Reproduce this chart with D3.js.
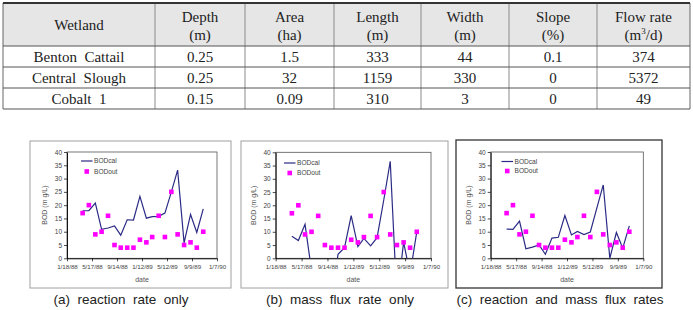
<!DOCTYPE html>
<html><head><meta charset="utf-8">
<script src="https://cdn.jsdelivr.net/npm/d3@7"></script>
<style>
html,body{margin:0;padding:0;background:#fff;}
svg{display:block;}
</style></head>
<body>
<svg id="c" width="693" height="310"></svg>
<script>
// ---------- table data ----------
const headTop = ["Wetland","Depth","Area","Length","Width","Slope","Flow rate"];
const headUnit = ["","(m)","(ha)","(m)","(m)","(%)","(m3/d)"];
const wetlands = ["Benton  Cattail","Central  Slough","Cobalt  1"];
const depth = ["0.25","0.25","0.15"];
const area = ["1.5","32","0.09"];
const lengthM = ["333","1159","310"];
const widthM = ["44","330","3"];
const slope = ["0.1","0","0"];
const flowRate = ["374","5372","49"];

// ---------- chart data ----------
const sampleDates = ["1988-04-02","1988-05-02","1988-06-02","1988-07-02","1988-08-02","1988-09-02","1988-10-02","1988-11-02","1988-12-02","1989-01-02","1989-02-02","1989-03-02","1989-04-02","1989-05-02","1989-06-02","1989-07-02","1989-08-02","1989-09-02","1989-10-02","1989-11-02"];
const bodOut = [17,20,9,10,16,5,4,4,4,7,6,8,16,8,25,9,5,6,4,10];
const bodCalA = [17.9,17.9,20.8,10.9,11.4,12.2,8.7,14.5,14.4,23.3,15.1,15.7,15.8,17,25,33.2,5.8,16.5,9.7,18.6];
const bodCalB = [8.3,6.7,12.8,-4.6,-8,-10,-15,1.5,4,16.1,4.4,7.5,4.7,7.8,22,36.6,-15.7,6.1,-6,10];
const bodCalC = [11,10.9,14,3.6,4.2,5,1.5,7.6,7.9,16.1,8.8,10.1,8.9,9.9,19,27.6,0,9.7,3.8,12.2];
const xTickLabels = ["1/18/88","5/17/88","9/14/88","1/12/89","5/12/89","9/9/89","1/7/90"];
const yTicks = [0,5,10,15,20,25,30,35,40];
const seriesNames = ["BODcal","BODout"];
const captions = ["(a)  reaction  rate  only","(b)  mass  flux  rate  only","(c)  reaction  and  mass  flux  rates"];

const svg = d3.select("#c");

// ---------- table ----------
const colX = [3,155,245,334,421,509,597,690];
const rowY = [3,46,67,88,109];
const serif = "'Liberation Serif','Times New Roman',serif";
const tbl = svg.append("g");
tbl.append("rect").attr("x",colX[0]).attr("y",rowY[0]).attr("width",colX[7]-colX[0]).attr("height",rowY[1]-rowY[0]).attr("fill","#e6e6e6");
colX.forEach((x,i)=>{
  tbl.append("line").attr("x1",x).attr("x2",x).attr("y1",rowY[0]).attr("y2",rowY[4])
    .attr("stroke", (i===0||i===7)?"#666":"#8a8a8a").attr("stroke-width",1);
});
rowY.forEach((y,i)=>{
  tbl.append("line").attr("x1",colX[0]).attr("x2",colX[7]).attr("y1",y).attr("y2",y)
    .attr("stroke", i===0?"#333":"#555").attr("stroke-width", i===0?2:1);
});
const cx = i => (colX[i]+colX[i+1])/2;
headTop.forEach((h,i)=>{
  if(headUnit[i]===""){
    tbl.append("text").attr("x",cx(i)).attr("y",30).attr("text-anchor","middle")
      .attr("font-family",serif).attr("font-size",15).attr("fill","#222").text(h);
  } else {
    tbl.append("text").attr("x",cx(i)).attr("y",22).attr("text-anchor","middle")
      .attr("font-family",serif).attr("font-size",15).attr("fill","#222").text(h);
    const t = tbl.append("text").attr("x",cx(i)).attr("y",40).attr("text-anchor","middle")
      .attr("font-family",serif).attr("font-size",15).attr("fill","#222");
    if(headUnit[i]==="(m3/d)"){
      t.append("tspan").text("(m");
      t.append("tspan").attr("font-size",9).attr("dy",-6).text("3");
      t.append("tspan").attr("dy",6).text("/d)");
    } else t.text(headUnit[i]);
  }
});
const cols = [wetlands,depth,area,lengthM,widthM,slope,flowRate];
cols.forEach((col,ci)=>{
  col.forEach((v,ri)=>{
    tbl.append("text").attr("x",cx(ci)).attr("y",(rowY[ri+1]+rowY[ri+2])/2+5)
      .attr("text-anchor","middle").attr("font-family",serif).attr("font-size",15)
      .attr("fill","#222").style("white-space","pre").text(v);
  });
});

// ---------- charts ----------
const parse = d3.utcParse("%Y-%m-%d");
const parseTick = d3.utcParse("%m/%d/%y");
const dates = sampleDates.map(parse);
const tickDates = xTickLabels.map(parseTick);
const sans = "'Liberation Sans',Arial,sans-serif";

const charts = [
  {cal:bodCalA, frame:[30,141,231,288], frameColor:"#a0a0a0", frameW:1, plot:[67,152,217,258.3], leg:[81,161,171.5]},
  {cal:bodCalB, frame:[241,141,448,288], frameColor:"#a0a0a0", frameW:1, plot:[275.7,152.3,431,258.3], leg:[284,163,173]},
  {cal:bodCalC, frame:[456,140,662,288], frameColor:"#333", frameW:1.3, plot:[490.7,152,643.3,258.3], leg:[501.5,161.5,171]}
];

charts.forEach((c,ci)=>{
  const g = svg.append("g");
  const [fx0,fy0,fx1,fy1] = c.frame;
  g.append("rect").attr("x",fx0).attr("y",fy0).attr("width",fx1-fx0).attr("height",fy1-fy0)
    .attr("fill","#fff").attr("stroke",c.frameColor).attr("stroke-width",c.frameW);
  const [px0,py0,px1,py1] = c.plot;
  const x = d3.scaleUtc().domain([tickDates[0], tickDates[tickDates.length-1]]).range([px0,px1]);
  const y = d3.scaleLinear().domain([0,40]).range([py1,py0]);
  g.append("rect").attr("x",px0).attr("y",py0).attr("width",px1-px0).attr("height",py1-py0)
    .attr("fill","none").attr("stroke","#555").attr("stroke-width",0.8);
  const ya = g.append("g").attr("transform",`translate(${px0},0)`)
    .call(d3.axisLeft(y).tickValues(yTicks).tickSize(3).tickPadding(2).tickSizeOuter(0));
  const xa = g.append("g").attr("transform",`translate(0,${py1})`)
    .call(d3.axisBottom(x).tickValues(tickDates).tickFormat((d,i)=>xTickLabels[i]).tickSize(3).tickPadding(3).tickSizeOuter(0));
  ya.selectAll("text").attr("font-family",sans).attr("font-size",6.5).attr("fill","#444");
  xa.selectAll("text").attr("font-family",sans).attr("font-size",6.2).attr("fill","#444");
  [ya,xa].forEach(a=>{
    a.selectAll("line").attr("stroke","#000").attr("stroke-width",0.7);
    a.select(".domain").attr("stroke","#000").attr("stroke-width",0.9);
  });
  g.append("text").attr("transform",`translate(${px0-20},${(py0+py1)/2}) rotate(-90)`)
    .attr("text-anchor","middle").attr("font-family",sans).attr("font-size",7).attr("fill","#555")
    .text("BOD (m g/L)");
  g.append("text").attr("x",(px0+px1)/2).attr("y",282).attr("text-anchor","middle")
    .attr("font-family",sans).attr("font-size",7).attr("fill","#555").text("date");
  const clipId = "clip"+ci;
  g.append("clipPath").attr("id",clipId).append("rect")
    .attr("x",px0).attr("y",py0).attr("width",px1-px0).attr("height",py1-py0);
  const line = d3.line().x((d,i)=>x(dates[i])).y(d=>y(d));
  g.append("path").datum(c.cal).attr("d",line).attr("fill","none")
    .attr("stroke","#2b2b85").attr("stroke-width",1.2).attr("clip-path",`url(#${clipId})`);
  g.selectAll("rect.pt").data(bodOut).enter().append("rect").attr("class","pt")
    .attr("x",(d,i)=>x(dates[i])-2.3).attr("y",d=>y(d)-2.3).attr("width",4.6).attr("height",4.6)
    .attr("fill","#ff00ff");
  const [lx,ly1,ly2] = c.leg;
  g.append("line").attr("x1",lx).attr("x2",lx+11.5).attr("y1",ly1).attr("y2",ly1)
    .attr("stroke","#2b2b85").attr("stroke-width",1.2);
  g.append("text").attr("x",lx+13).attr("y",ly1+2.3).attr("font-family",sans).attr("font-size",6.6)
    .attr("fill","#444").text(seriesNames[0]);
  g.append("rect").attr("x",lx+5.75-2.3).attr("y",ly2-2.3).attr("width",4.6).attr("height",4.6).attr("fill","#ff00ff");
  g.append("text").attr("x",lx+13).attr("y",ly2+2.3).attr("font-family",sans).attr("font-size",6.6)
    .attr("fill","#444").text(seriesNames[1]);
});

const capX = [121,340,560];
captions.forEach((t,i)=>{
  svg.append("text").attr("x",capX[i]).attr("y",304).attr("text-anchor","middle")
    .attr("font-family",sans).attr("font-size",13.5).attr("fill","#222")
    .style("white-space","pre").text(t);
});
</script>
</body></html>
